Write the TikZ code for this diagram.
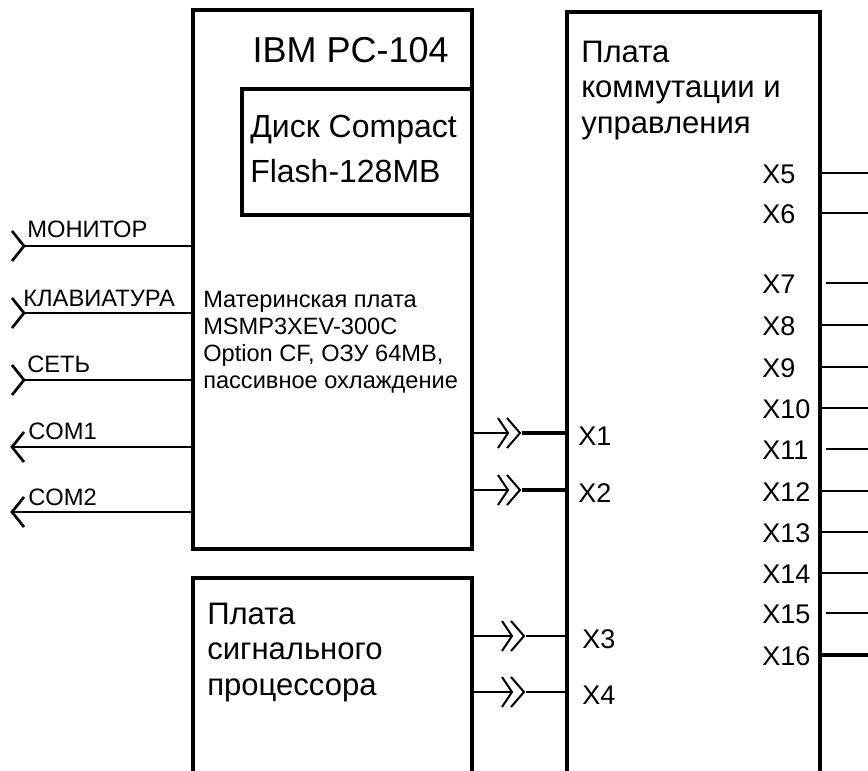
\documentclass[tikz,border=0pt]{standalone}
\usepackage{fontspec}
\setmainfont{Liberation Sans}
\usetikzlibrary{fit}
\begin{document}
\begin{tikzpicture}[x=0.75pt,y=-0.75pt,
  box/.style={draw, line width=3pt, inner sep=0pt, fit={#1}},
  conn/.style={line width=2pt},
  thinc/.style={line width=1.5pt},
  thickc/.style={line width=2.4pt},
  lbl/.style={font=\fontsize{17.8}{20}\selectfont, anchor=base west, inner sep=0pt},
  xlbl/.style={font=\fontsize{20.25}{22}\selectfont, anchor=base west, inner sep=0pt},
  rlbl/.style={font=\fontsize{20.25}{22}\selectfont, anchor=base west, inner sep=0pt},
  multi/.style={anchor=base west, align=left, inner sep=0pt}
]
\useasboundingbox (0,0) rectangle (868,771);
\fill[white] (0,0) rectangle (868,771);

% boxes
\node[box={(193,10) (472,549)}] (pc) {};
\node[box={(242,89) (472,215)}] (disk) {};
\node[box={(193,578) (472,800)}] (dsp) {};
\node[box={(567,12) (820,800)}] (kom) {};

% texts (multi-line nodes are anchored at the baseline of their last line)
\node[anchor=base east, inner sep=0pt, font=\fontsize{27}{32}\selectfont] (ibm) at (449,62) {IBM PC-104};
\node[multi, font=\fontsize{24}{33.75}\selectfont] (disktxt) at (250,182) {Диск Compact\\Flash-128MB};
\node[multi, font=\fontsize{17.7}{20.25}\selectfont] (mbtxt) at (203,388) {Материнская плата\\MSMP3XEV-300C\\Option CF, ОЗУ 64MB,\\пассивное охлаждение};
\node[multi, font=\fontsize{23.3}{26.3}\selectfont] (komtxt) at (581,133) {Плата\\коммутации и\\управления};
\node[multi, font=\fontsize{23.3}{26.3}\selectfont] (dsptxt) at (207,695) {Плата\\сигнального\\процессора};

% left inputs
\foreach \nm/\y/\lx/\ly/\t in {mon/246/27/237/МОНИТОР, kbd/313/23/306.5/КЛАВИАТУРА, net/380/27/372.5/СЕТЬ} {
  \coordinate (\nm) at (24,\y);
  \draw[conn] (\nm) -- (\nm -| pc.west);
  \draw[conn] ([shift={(-12,-15)}]\nm) -- (\nm) -- ([shift={(-12,15)}]\nm);
  \node[lbl] (\nm-t) at (\lx,\ly) {\t};
}
% left outputs
\foreach \nm/\y/\ly/\t in {com1/447/439/COM1, com2/512/505.5/COM2} {
  \coordinate (\nm) at (12,\y);
  \draw[conn] (\nm) -- (\nm -| pc.west);
  \draw[conn] ([shift={(12,-15)}]\nm) -- (\nm) -- ([shift={(12,15)}]\nm);
  \node[lbl] (\nm-t) at (28,\ly) {\t};
}

% middle connectors
\foreach \nm/\y/\src/\T/\st/\lx in {1/433/pc/508/thickc/578, 2/490/pc/508/thickc/578, 3/636/dsp/512/thinc/582, 4/692/dsp/512/thinc/582} {
  \coordinate (m\nm) at (\T,\y);
  \draw[thinc] (m\nm -| \src.east) -- (m\nm);
  \draw[thinc] ([shift={(-10,-15)}]m\nm) -- (m\nm) -- ([shift={(-10,15)}]m\nm);
  \draw[thinc] ([shift={(-1,-15)}]m\nm) -- ([shift={(12,0)}]m\nm) -- ([shift={(-1,15)}]m\nm);
  \draw[\st] ([shift={(14,0)}]m\nm) -- (m\nm -| kom.west);
  \node[xlbl] (x\nm) at (\lx,\y+12) {X\nm};
}

% right connectors
\foreach \nm/\y/\g/\w in {5/173/0/1.6pt, 6/213/0/1.6pt, 7/283/4/1.6pt, 8/325/0/1.6pt, 9/367/0/1.6pt, 10/408/0/1.6pt, 11/449/4/1.6pt, 12/491/0/1.6pt, 13/532/0/1.6pt, 14/573/0/1.6pt, 15/613/4/1.6pt, 16/655/0/2.6pt} {
  \coordinate (r\nm) at (868,\y);
  \draw[line width=\w] ([shift={(\g,0)}]r\nm -| kom.east) -- (r\nm);
  \node[rlbl] (x\nm) at (762,\y+10) {X\nm};
}
\end{tikzpicture}
\end{document}
